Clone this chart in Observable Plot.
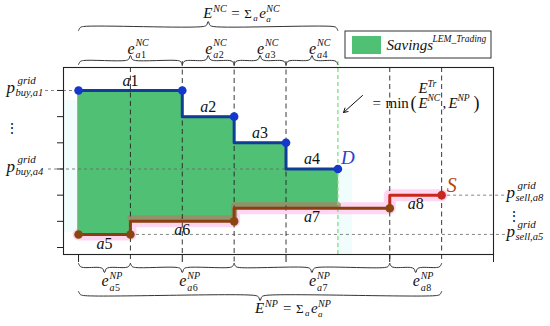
<!DOCTYPE html>
<html>
<head>
<meta charset="utf-8">
<script src="https://cdn.jsdelivr.net/npm/d3@7"></script>
<script src="https://cdn.jsdelivr.net/npm/@observablehq/plot@0.6"></script>
<style>
  html, body { margin: 0; padding: 0; background: #fff; }
</style>
</head>
<body>
<div id="chart"></div>
<script>
// ---------------- DATA ----------------
const demandAgents = ["1", "2", "3", "4"];      // a1..a4 (net consumers)
const demandQty    = [2, 1, 1, 1];              // e^NC_a widths
const demandPrice  = [6, 5, 4, 3];              // p^grid_buy
const supplyAgents = ["5", "6", "7", "8"];      // a5..a8 (net producers)
const supplyQty    = [1, 2, 3, 1];              // e^NP_a widths
const supplyPrice  = [0.5, 1, 1.5, 2];          // p^grid_sell
const priceTicks   = [0, 1, 2, 3, 4, 5, 6];
const qtyTicks     = [0, 2, 4, 6, 8];

// ---------------- LAYOUT ----------------
const W = 550, H = 326;
const FR = {l: 63, r: 493, t: 67, b: 254};
const XD = [-0.29, 8], YD = [-0.267, 6.878];
const X = px => XD[0] + (px - FR.l) * (XD[1] - XD[0]) / (FR.r - FR.l);
const Y = py => YD[0] + (FR.b - py) * (YD[1] - YD[0]) / (FR.b - FR.t);
const PX = x => FR.l + (x - XD[0]) * (FR.r - FR.l) / (XD[1] - XD[0]);
const F = "'Liberation Serif', 'DejaVu Serif', serif";
const GREEN = "#50c074";

function segs(qty, price, agents) {
  let x = 0;
  return qty.map((q, i) => { const s = {agent: agents[i], x0: x, x1: x + q, p: price[i]}; x += q; return s; });
}
const dSeg = segs(demandQty, demandPrice, demandAgents);
const sSeg = segs(supplyQty, supplyPrice, supplyAgents);
const dEnd = dSeg[dSeg.length - 1].x1, sEnd = sSeg[sSeg.length - 1].x1;
const trade = Math.min(dEnd, sEnd);

const stepPts = S => S.map(s => ({x: s.x0, y: s.p})).concat([{x: S[S.length-1].x1, y: S[S.length-1].p}]);
const dotPts = S => [{x: S[0].x0, y: S[0].p}].concat(S.map(s => ({x: s.x1, y: s.p})));
const at = (S, x) => (S.find(s => x >= s.x0 && x < s.x1) || S[S.length - 1]).p;

const breaks = Array.from(new Set(dSeg.flatMap(s => [s.x0, s.x1]).concat(sSeg.flatMap(s => [s.x0, s.x1]))))
  .filter(x => x <= trade).sort((a, b) => a - b);
const areaPts = breaks.map(x => ({x, d: at(dSeg, x), s: at(sSeg, x)}));

// supply split: brown up to last segment, red last segment
const sLast = sSeg[sSeg.length - 1], sPrev = sSeg[sSeg.length - 2];
const brownPts = stepPts(sSeg.slice(0, -1));
const redPts = [{x: sLast.x0, y: sPrev.p}, {x: sLast.x0, y: sLast.p}, {x: sLast.x1, y: sLast.p}];
// portion of supply curve lying inside the savings area (after first segment)
const innerPts = breaks.filter(x => x >= sSeg[1].x0).map(x => ({x, y: at(sSeg, x)}));

// vertical dashed lines
const dB = dSeg.slice(1).map(s => s.x0);
const sB = sSeg.slice(1).map(s => s.x0).concat([sEnd]);
const vLines = Array.from(new Set(dB.concat(sB))).sort((a,b)=>a-b).map(x => ({
  x, y1: dB.includes(x) ? Y(61) : Y(FR.t), y2: sB.includes(x) ? Y(262) : Y(FR.b)
}));

// braces
function brace(xa, xb, yf, dir, id) { // dir -1: tip up, +1: tip down (pixels)
  const a = PX(xa), b = PX(xb), c = (a + b) / 2, r = 5, e = 4 * -dir, t = 5 * dir;
  const P = [[a, yf + e], [a + r * 0.35, yf + e * 0.25], [a + r, yf], [c - r, yf],
             [c - r * 0.35, yf + t * 0.25], [c, yf + t], [c + r * 0.35, yf + t * 0.25],
             [c + r, yf], [b - r, yf], [b - r * 0.35, yf + e * 0.25], [b, yf + e]];
  return P.map(([px, py]) => ({x: X(px), y: Y(py), id}));
}
const braces = [
  ...brace(0, dEnd, 26, -1, "ENC"),
  ...dSeg.flatMap(s => brace(s.x0, s.x1, 60, -1, "d" + s.agent)),
  ...sSeg.flatMap(s => brace(s.x0, s.x1, 267, 1, "s" + s.agent)),
  ...brace(0, sEnd, 295, 1, "ENP")
];

// text helper
function T(str, x, y, o = {}) {
  return Plot.text([str], {
    x, y, text: d => d, fontFamily: F, fontSize: o.size ?? 15,
    fontStyle: o.it === false ? "normal" : "italic",
    textAnchor: o.anchor ?? "start", lineAnchor: o.line ?? "bottom",
    dx: o.dx ?? 0, dy: o.dy ?? 0, fill: o.fill ?? "#111"
  });
}
function G(x, y, parts) {
  return parts.map(([s, dx, dy, size, it]) => T(s, x, y, {dx, dy, size, it}));
}
const sumParts = sup => [["E",-5,0,15,true],[sup,5,-6,10,true],["=",23,0,15,false],["Σ",36,0,13,false],
  ["a",45,3,9,true],["e",51,0,15,true],[sup,58,-6,10,true],["a",58,4,9,true]];
const eParts = (sup, dig, sdy, supdy) => [["e",-3,0,16,true],[sup,5,supdy,10,true],["a",5,sdy,10,true],[dig,10.5,sdy,10,false]];
const pParts = sub => [["p",0,3,17,true],["grid",11,-6,11,true],[sub,9,6,10.5,true]];

const marks = [
  // faint highlight artefacts
  Plot.rect([0], {x1: XD[0], x2: 0, y1: Y(232), y2: Y(100), fill: "#f1fcfc"}),
  Plot.rect([0], {x1: trade, x2: X(352), y1: YD[0], y2: dSeg[dSeg.length-1].p, fill: "#f1fcfc"}),
  Plot.line(stepPts(sSeg), {x: "x", y: "y", curve: "step-after", stroke: "#ffd6f2", strokeWidth: 12}),
  // savings area
  Plot.areaY(areaPts, {x: "x", y1: "s", y2: "d", curve: "step-after", fill: GREEN, stroke: "#a08050", strokeWidth: 0.8}),
  Plot.line(innerPts, {x: "x", y: "y", curve: "step-after", stroke: "#9c8a68", strokeWidth: 6, dy: -3, strokeOpacity: 0.85}),
  // horizontal dashed guides
  Plot.ruleY([{y: dSeg[0].p, x1: X(45), x2: dSeg[0].x0}, {y: dSeg[3].p, x1: X(48), x2: dSeg[3].x0},
              {y: sSeg[3].p, x1: sSeg[3].x1, x2: X(508)}, {y: sSeg[0].p, x1: sSeg[0].x1, x2: X(508)}],
             {y: "y", x1: "x1", x2: "x2", stroke: "#666", strokeWidth: 0.8, strokeDasharray: "3,3"}),
  // vertical dashed lines
  Plot.ruleX(vLines, {x: "x", y1: "y1", y2: "y2", stroke: "#222", strokeWidth: 0.9, strokeDasharray: "5,3.5"}),
  Plot.ruleX([trade], {y1: Y(61), y2: Y(FR.b), stroke: "#6fe36f", strokeWidth: 1.2, strokeDasharray: "4,3"}),
  // frame and axes
  Plot.frame({stroke: "#222", strokeWidth: 1.1}),
  Plot.axisY({ticks: priceTicks, tickFormat: () => "", tickSize: 6, stroke: "#222", anchor: "left"}),
  Plot.axisX({ticks: qtyTicks, tickFormat: () => "", tickSize: 8, stroke: "#222", anchor: "bottom"}),
  // supply curve
  Plot.line(brownPts, {x: "x", y: "y", curve: "step-after", stroke: "#8a3f12", strokeWidth: 3}),
  Plot.line(redPts, {x: "x", y: "y", stroke: "#c8281a", strokeWidth: 3}),
  Plot.dot(dotPts(sSeg).slice(0, -1), {x: "x", y: "y", r: 4.3, fill: "#8b4510", stroke: "none"}),
  Plot.dot(dotPts(sSeg).slice(-1), {x: "x", y: "y", r: 4.3, fill: "#c8281a", stroke: "none"}),
  // demand curve
  Plot.line(stepPts(dSeg), {x: "x", y: "y", curve: "step-after", stroke: "#113c98", strokeWidth: 3}),
  Plot.dot(dotPts(dSeg), {x: "x", y: "y", r: 4.3, fill: "#1538cc", stroke: "none"}),
  // braces
  Plot.line(braces, {x: "x", y: "y", z: "id", curve: "catmull-rom", stroke: "#333", strokeWidth: 1}),
  // arrow
  Plot.arrow([0], {x1: X(362), y1: Y(95), x2: X(343), y2: Y(112), stroke: "#111", strokeWidth: 1, headLength: 7}),
  // legend
  Plot.rect([0], {x1: X(345), x2: X(491), y1: Y(58), y2: Y(31), fill: "white", stroke: "#333", strokeWidth: 1}),
  Plot.rect([0], {x1: X(352), x2: X(381), y1: Y(54), y2: Y(36), fill: GREEN}),
  ...G(X(386), Y(49), [["Savings",0,0,15,true],["LEM_Trading",46,-8,9.5,true]]),
  // segment labels
  ...dSeg.flatMap(s => [T("a", (s.x0+s.x1)/2, s.p, {anchor: "end", line: "middle", dy: -10, size: 16}),
                        T(s.agent, (s.x0+s.x1)/2, s.p, {anchor: "start", line: "middle", dy: -10, size: 16, it: false})]),
  ...sSeg.flatMap(s => [T("a", (s.x0+s.x1)/2, s.p, {anchor: "end", line: "middle", dy: 9, size: 16}),
                        T(s.agent, (s.x0+s.x1)/2, s.p, {anchor: "start", line: "middle", dy: 9, size: 16, it: false})]),
  T("D", trade, dSeg[dSeg.length-1].p, {dx: 3, dy: -5, size: 19, fill: "#2a40cf"}),
  T("S", sEnd, sLast.p, {dx: 5, dy: -3, size: 20, fill: "#b8430f"}),
  // brace labels
  ...G(dEnd / 2, Y(17), sumParts("NC")),
  ...dSeg.flatMap(s => G((s.x0+s.x1)/2, Y(53), eParts("NC", s.agent, 4, -8))),
  ...sSeg.flatMap(s => G((s.x0+s.x1)/2, Y(285), eParts("NP", s.agent, 5, -7))),
  ...G(sEnd / 2, Y(312), sumParts("NP")),
  // traded energy annotation
  ...G(X(372), Y(107), [["=",0,0,15,false],["min",13,0,15,false],["(",38,1,18,false],["E",46,0,15,true],
       ["NC",55,-7,9.5,true],[",",70,0,15,false],["E",76,0,15,true],["NP",85,-7,9.5,true],[")",101,1,18,false],
       ["E",46,-15,15,true],["Tr",55,-21,10,true]]),
  // price labels
  ...G(X(6), dSeg[0].p, pParts("buy,a" + dSeg[0].agent)),
  ...G(X(6), dSeg[3].p, pParts("buy,a" + dSeg[3].agent)),
  T("⋮", X(11), Y(128), {anchor: "middle", line: "middle", size: 14, it: false}),
  ...G(X(506), sSeg[3].p, pParts("sell,a" + sSeg[3].agent)),
  ...G(X(506), sSeg[0].p, pParts("sell,a" + sSeg[0].agent)),
  T("⋮", X(513), Y(216), {anchor: "middle", line: "middle", size: 14, it: false})
];

const chart = Plot.plot({
  width: W, height: H,
  marginLeft: FR.l, marginRight: W - FR.r, marginTop: FR.t, marginBottom: H - FR.b,
  x: {domain: XD},
  y: {domain: YD},
  style: {background: "white", overflow: "visible"},
  marks
});
document.getElementById("chart").appendChild(chart);
</script>
</body>
</html>
